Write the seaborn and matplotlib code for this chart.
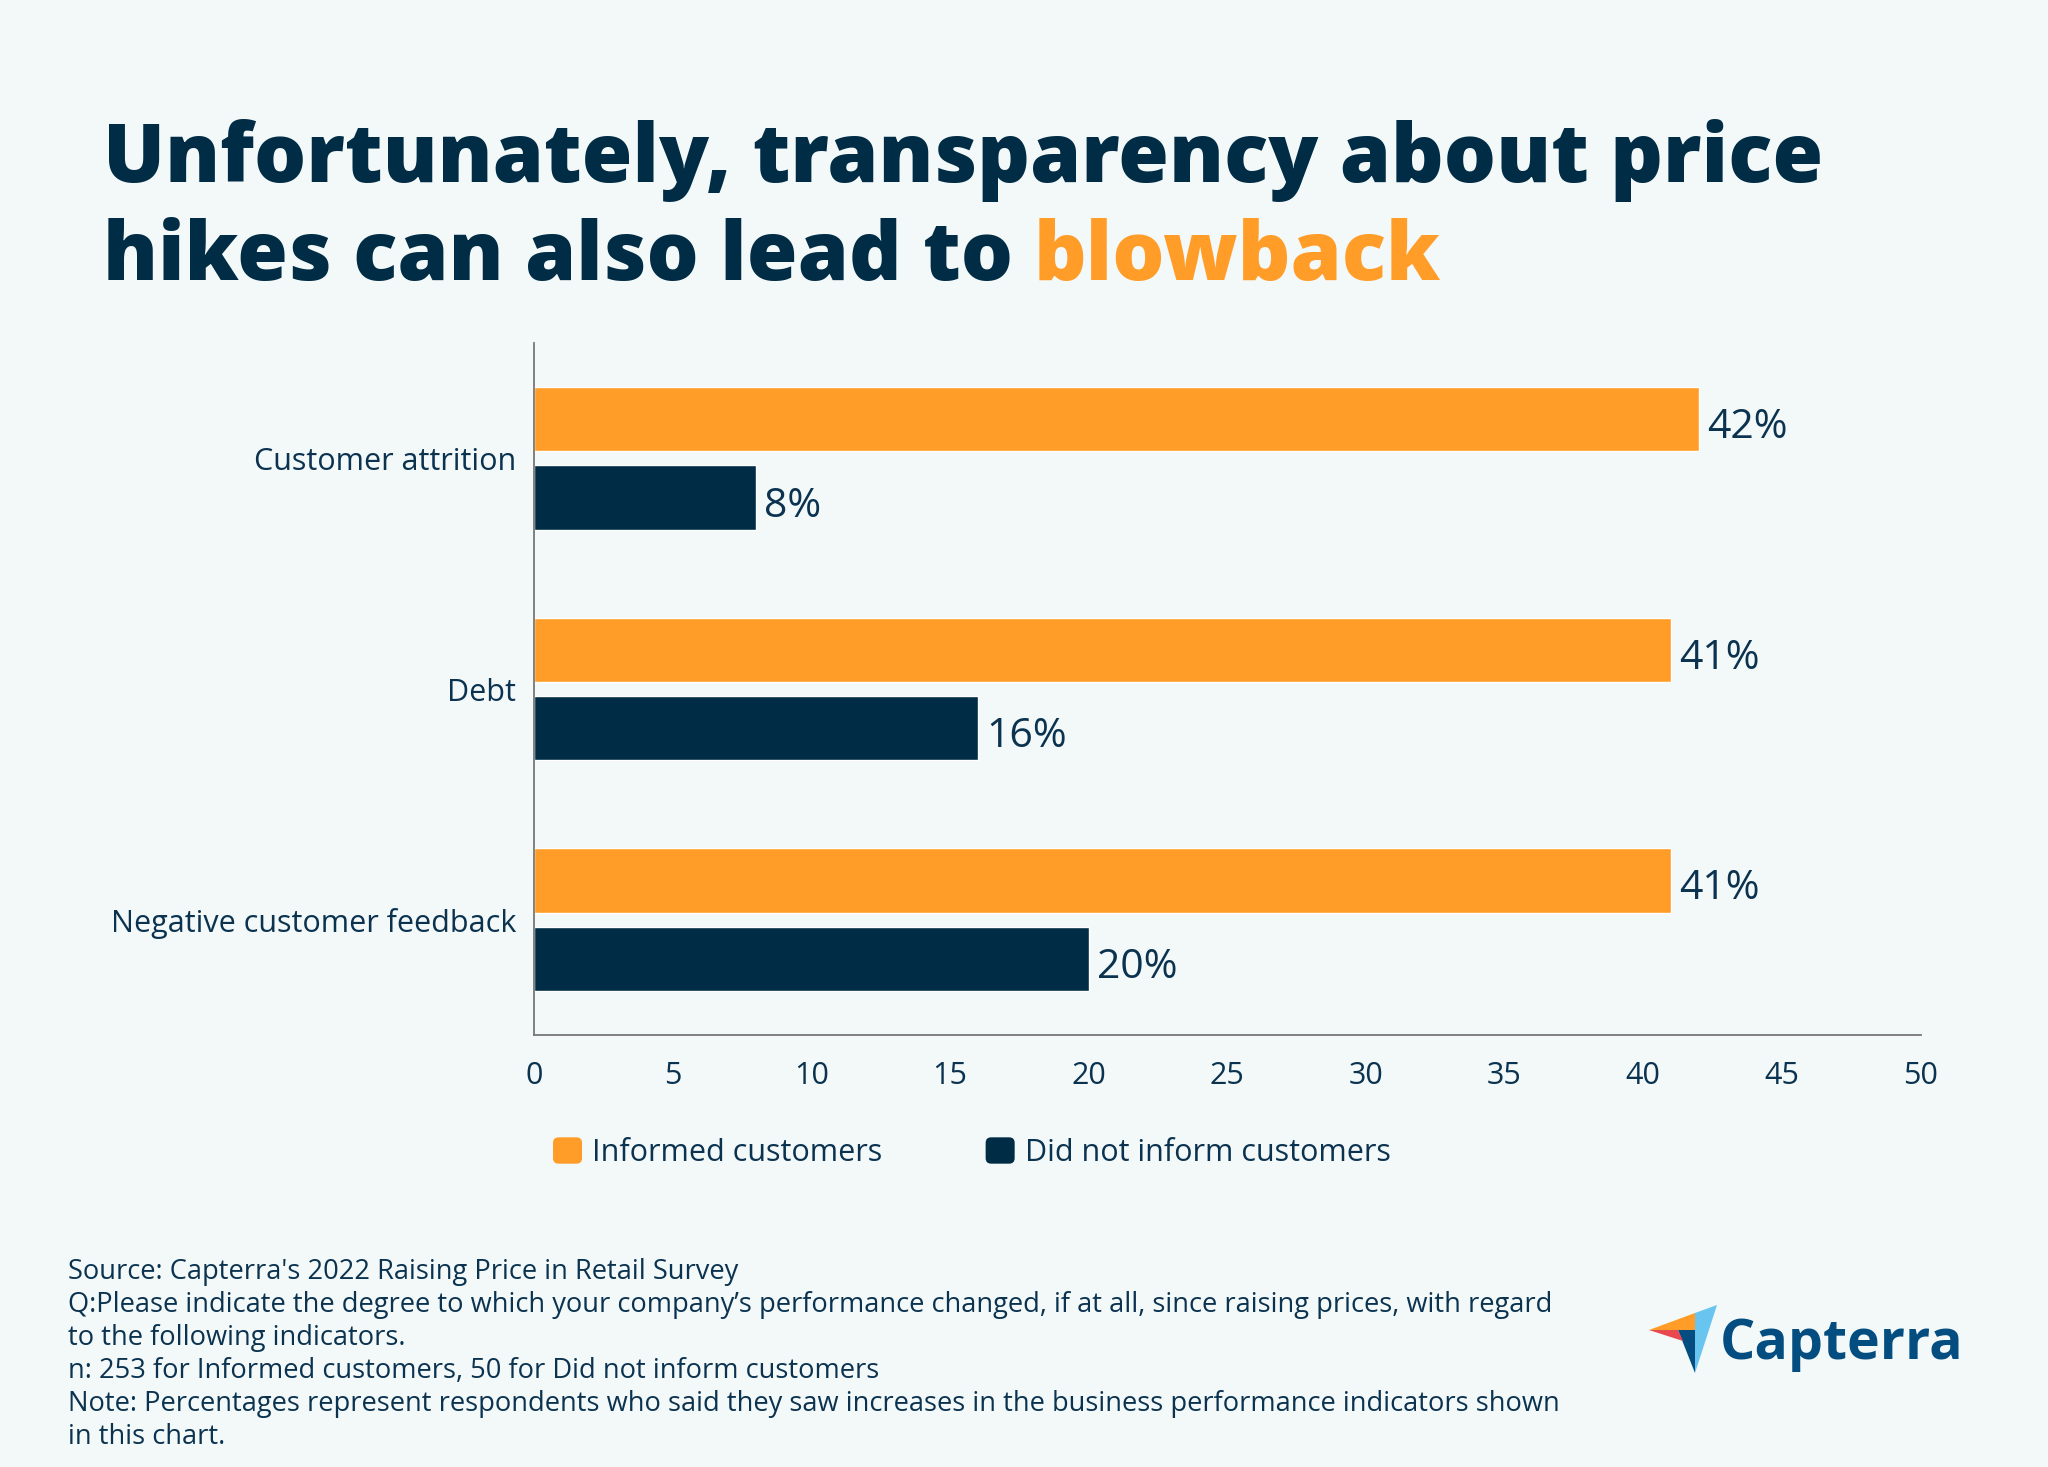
import matplotlib
matplotlib.use("Agg")
import matplotlib.pyplot as plt
from matplotlib.patches import Polygon, FancyBboxPatch, Patch
from matplotlib.legend_handler import HandlerPatch
import pandas as pd
import seaborn as sns

categories = ["Customer attrition", "Debt", "Negative customer feedback"]
informed = [42, 41, 41]
not_informed = [8, 16, 20]
series_names = ["Informed customers", "Did not inform customers"]
x_ticks = [0, 5, 10, 15, 20, 25, 30, 35, 40, 45, 50]
footer = ("Source: Capterra's 2022 Raising Price in Retail Survey\n"
          "Q:Please indicate the degree to which your company\u2019s performance changed, if at all, since raising prices, with regard\n"
          "to the following indicators.\n"
          "n: 253 for Informed customers, 50 for Did not inform customers\n"
          "Note: Percentages represent respondents who said they saw increases in the business performance indicators shown\n"
          "in this chart.")

BG = "#F3F8F8"; ORANGE = "#FF9D28"; NAVY = "#002C45"; TEXT = "#0B3350"
W, H = 2048, 1467
sns.set_theme(style="white")
plt.rcParams["font.family"] = ["Open Sans", "DejaVu Sans"]

fig = plt.figure(figsize=(W / 100, H / 100), dpi=100, facecolor=BG)
ax = fig.add_axes([534 / W, 1 - 1035 / H, (1920.5 - 534) / W, (1035 - 343) / H], facecolor=BG)

df = pd.DataFrame({
    "category": categories * 2,
    "value": informed + not_informed,
    "series": [series_names[0]] * 3 + [series_names[1]] * 3,
})
sns.barplot(data=df, y="category", x="value", hue="series", order=categories, hue_order=series_names,
            palette=[ORANGE, NAVY], width=0.68, gap=0.18, saturation=1, legend=False, ax=ax)
for c in ax.containers:
    for ann in ax.bar_label(c, fmt="%g%%", padding=5, fontsize=29.4, color=TEXT):
        ann.xyann = (6, -6.3)

ax.set_xlim(0, 50); ax.set_ylim(2.5, -0.5)
ax.set_xticks(x_ticks)
ax.set_xlabel(""); ax.set_ylabel("")
ax.tick_params(axis="x", length=0, pad=19, labelsize=22, labelcolor=TEXT)
ax.tick_params(axis="y", length=0, pad=13, labelsize=22, labelcolor=TEXT)
sns.despine(ax=ax)
for s in ("left", "bottom"):
    ax.spines[s].set_color("#777777"); ax.spines[s].set_linewidth(1.3)

# Title
TW = 800
fig.text(103 / W, 1 - 182 / H, "Unfortunately, transparency about price", fontsize=59.15, fontweight=TW, color=NAVY)
fig.text(103 / W, 1 - 280 / H, "hikes can also lead to ", fontsize=59.15, fontweight=TW, color=NAVY)
fig.text(1034 / W, 1 - 280 / H, "blowback", fontsize=59.15, fontweight=TW, color=ORANGE)

# Legend
class RoundHandler(HandlerPatch):
    def create_artists(self, legend, orig, xd, yd, w, h, fs, trans):
        p = FancyBboxPatch((-xd + 3, -yd + 3), w - 6, h - 6, boxstyle="round,pad=3,rounding_size=4",
                           fc=orig.get_facecolor(), ec="none", transform=trans)
        return [p]

handles = [Patch(facecolor=ORANGE, label=series_names[0]), Patch(facecolor=NAVY, label=series_names[1])]
fig.legend(handles=handles, ncol=2, loc="lower left", bbox_to_anchor=(553 / W, 1 - 1168 / H),
           frameon=False, fontsize=22, labelcolor=TEXT, handlelength=0.95, handleheight=0.95,
           handletextpad=0.34, columnspacing=3.37, borderpad=0, borderaxespad=0,
           handler_map={Patch: RoundHandler()})

# Footer
fig.text(68 / W, 1 - 1451 / H, footer, fontsize=19.63, color=TEXT, va="bottom", ha="left", linespacing=1.235)

# Logo
def px(pts):
    return [(x / W, 1 - y / H) for x, y in pts]
for pts, col in [
    ([(1649, 1330), (1695, 1313), (1695, 1330)], "#FF9D28"),
    ([(1695, 1313), (1717, 1305), (1695, 1373)], "#67C5F0"),
    ([(1678, 1330), (1695, 1330), (1695, 1373)], "#044D80"),
    ([(1649, 1330), (1678, 1330), (1683, 1341)], "#E8494F"),
]:
    fig.add_artist(Polygon(px(pts), closed=True, fc=col, ec="none", transform=fig.transFigure))
fig.text(1720 / W, 1 - 1359 / H, "Capterra", fontsize=40, fontweight="bold", color="#044D80")

fig.savefig("out.png", dpi=100, facecolor=BG)
